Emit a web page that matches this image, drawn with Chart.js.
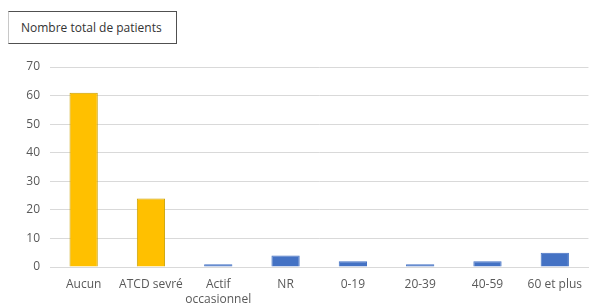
<!DOCTYPE html>
<html>
<head>
<meta charset="utf-8">
<script src="https://cdn.jsdelivr.net/npm/chart.js@4/dist/chart.umd.min.js"></script>
<style>
    html, body { margin: 0; padding: 0; background: #fff; }
    #wrap { position: relative; width: 592px; height: 306px; }
    #titre {
        position: absolute; left: 8px; top: 11px; width: 169px; height: 33px;
        border: 1px solid #505050; border-left-color: #c8c8c8;
        font: 12px "Open Sans", sans-serif; color: #333;
        line-height: 31px; text-indent: 12px; box-sizing: border-box; background: #fff;
    }
</style>
</head>
<body>
<div id="wrap">
    <canvas id="chart" width="592" height="306"></canvas>
    <div id="titre">Nombre total de patients</div>
</div>
<script>
// catégories et valeurs
const categories = ['Aucun', 'ATCD sevré', ['Actif', 'occasionnel'], 'NR', '0-19', '20-39', '40-59', '60 et plus'];
const patients = [61, 24, 1, 4, 2, 1, 2, 5];
const yTicks = [0, 10, 20, 30, 40, 50, 60, 70];

// jaune pour le statut tabagique, bleu pour le reste
const fillColors = ['#FFC000', '#FFC000', '#4472C4', '#4472C4', '#4472C4', '#4472C4', '#4472C4', '#4472C4'];
const borderColors = ['#C9A000', '#C9A000', '#4472C4', '#4472C4', '#4472C4', '#4472C4', '#4472C4', '#4472C4'];

const ctx = document.getElementById('chart').getContext('2d');
const chart = new Chart(ctx, {
    type: 'bar',
    data: {
        labels: categories,
        datasets: [{
            data: patients,
            backgroundColor: fillColors,
            borderColor: borderColors,
            borderWidth: 1,
            barPercentage: 0.42,
            categoryPercentage: 1
        }]
    },
    options: {
        responsive: false,
        animation: false,
        layout: { padding: { top: 67, right: 0, left: 0, bottom: 0 } },
        plugins: { legend: { display: false }, tooltip: { enabled: false } },
        scales: {
            x: {
                grid: { display: false, drawTicks: false },
                border: { color: '#d9d9d9' },
                ticks: {
                    color: '#595959',
                    font: { family: 'Open Sans', size: 12, lineHeight: 1.25 },
                    padding: 10,
                    maxRotation: 0,
                    autoSkip: false
                },
                afterFit: function(scale) { scale.height = 39; }
            },
            y: {
                min: 0,
                max: 70,
                afterBuildTicks: function(scale) { scale.ticks = yTicks.map(v => ({ value: v })); },
                grid: { color: '#d9d9d9', drawTicks: false },
                border: { display: false },
                ticks: {
                    color: '#595959',
                    font: { family: 'Open Sans', size: 12 },
                    padding: 10
                },
                afterFit: function(scale) { scale.width = 50; }
            }
        }
    }
});
</script>
</body>
</html>
